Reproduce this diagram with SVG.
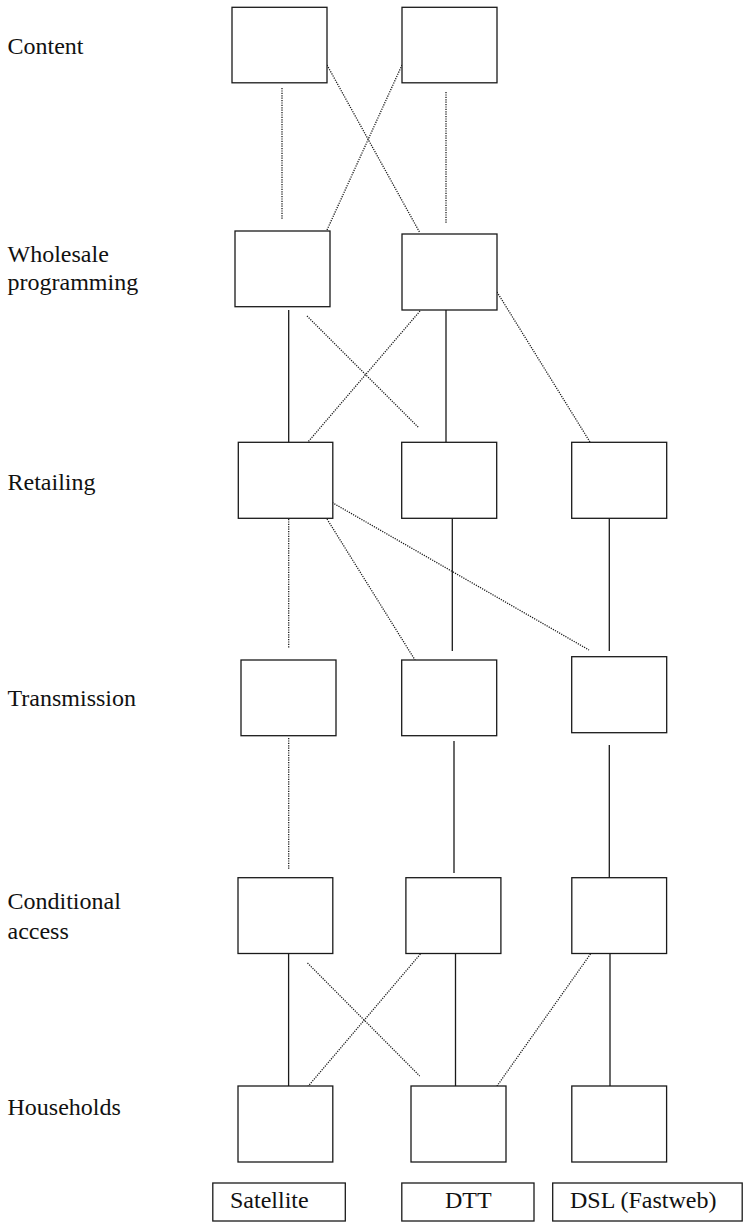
<svg xmlns="http://www.w3.org/2000/svg" width="747" height="1225" viewBox="0 0 747 1225">
<style>
.box{fill:#fff;stroke:#1a1a1a;stroke-width:1.3}
.lbl{font-family:"Liberation Serif","Times New Roman",serif;font-size:24px;fill:#111}
.solid{stroke:#1a1a1a;stroke-width:1.3;fill:none}
.dot{stroke:#1a1a1a;stroke-width:1.3;stroke-dasharray:1.2 1.2;fill:none}
</style>
<rect width="747" height="1225" fill="#fff"/>
<g id="row-labels">
<text class="lbl" x="7.5" y="54">Content</text>
<text class="lbl" x="7.5" y="262">Wholesale</text>
<text class="lbl" x="7.5" y="290">programming</text>
<text class="lbl" x="7.5" y="490">Retailing</text>
<text class="lbl" x="7.5" y="706">Transmission</text>
<text class="lbl" x="7.5" y="909">Conditional</text>
<text class="lbl" x="7.5" y="939">access</text>
<text class="lbl" x="7.5" y="1115">Households</text>
</g>
<g id="connectors">
<line class="dot" x1="282" y1="88" x2="282" y2="219"/>
<line class="dot" x1="446" y1="92" x2="446" y2="223"/>
<line class="dot" x1="327" y1="65" x2="420" y2="233"/>
<line class="dot" x1="402" y1="65" x2="327" y2="230"/>
<line class="solid" x1="288.7" y1="310" x2="288.7" y2="442"/>
<line class="dot" x1="307" y1="316" x2="419" y2="428"/>
<line class="dot" x1="420" y1="311" x2="308" y2="442"/>
<line class="solid" x1="446" y1="310" x2="446" y2="442"/>
<line class="dot" x1="497" y1="292" x2="590" y2="442"/>
<line class="dot" x1="288.7" y1="519" x2="288.7" y2="648"/>
<line class="dot" x1="327" y1="519" x2="420" y2="668"/>
<line class="dot" x1="326" y1="499" x2="589" y2="650"/>
<line class="solid" x1="452.3" y1="518" x2="452.3" y2="651"/>
<line class="solid" x1="609.3" y1="518" x2="609.3" y2="651"/>
<line class="dot" x1="288.7" y1="738" x2="288.7" y2="869"/>
<line class="solid" x1="454" y1="741" x2="454" y2="873"/>
<line class="solid" x1="609.3" y1="745" x2="609.3" y2="878"/>
<line class="solid" x1="288.6" y1="954" x2="288.6" y2="1086"/>
<line class="dot" x1="307.5" y1="963" x2="419.7" y2="1076"/>
<line class="dot" x1="420.4" y1="954" x2="307.5" y2="1087"/>
<line class="solid" x1="455.5" y1="954" x2="455.5" y2="1086"/>
<line class="dot" x1="590.5" y1="954" x2="497" y2="1086"/>
<line class="solid" x1="610" y1="954" x2="610" y2="1086"/>
</g>
<g id="content-1"><rect class="box" x="232" y="7.3" width="95" height="75.5"/></g>
<g id="content-2"><rect class="box" x="402" y="7.3" width="95" height="75.5"/></g>
<g id="wholesale-1"><rect class="box" x="235" y="231" width="95" height="75.7"/></g>
<g id="wholesale-2"><rect class="box" x="402" y="234" width="95" height="76"/></g>
<g id="retail-1"><rect class="box" x="238.3" y="442.3" width="94.5" height="76"/></g>
<g id="retail-2"><rect class="box" x="401.7" y="442.3" width="95" height="76"/></g>
<g id="retail-3"><rect class="box" x="571.7" y="442.3" width="95" height="76"/></g>
<g id="transmission-1"><rect class="box" x="241" y="660" width="95" height="75.7"/></g>
<g id="transmission-2"><rect class="box" x="401.7" y="660" width="95" height="75.7"/></g>
<g id="transmission-3"><rect class="box" x="571.7" y="656.7" width="95" height="76"/></g>
<g id="ca-1"><rect class="box" x="238" y="877.7" width="94.8" height="75.8"/></g>
<g id="ca-2"><rect class="box" x="405.9" y="877.7" width="95" height="75.8"/></g>
<g id="ca-3"><rect class="box" x="571.8" y="877.7" width="94.8" height="75.8"/></g>
<g id="households-1"><rect class="box" x="238" y="1086" width="94.8" height="76"/></g>
<g id="households-2"><rect class="box" x="411" y="1086" width="95" height="76"/></g>
<g id="households-3"><rect class="box" x="571.8" y="1086" width="94.8" height="76"/></g>
<g id="label-satellite"><rect class="box" x="212.8" y="1183" width="132.5" height="38"/><text class="lbl" x="230" y="1208">Satellite</text></g>
<g id="label-dtt"><rect class="box" x="401.8" y="1183" width="132.2" height="38"/><text class="lbl" x="445" y="1208">DTT</text></g>
<g id="label-dsl"><rect class="box" x="552.7" y="1183" width="189.5" height="38"/><text class="lbl" x="570" y="1208">DSL (Fastweb)</text></g>
</svg>
